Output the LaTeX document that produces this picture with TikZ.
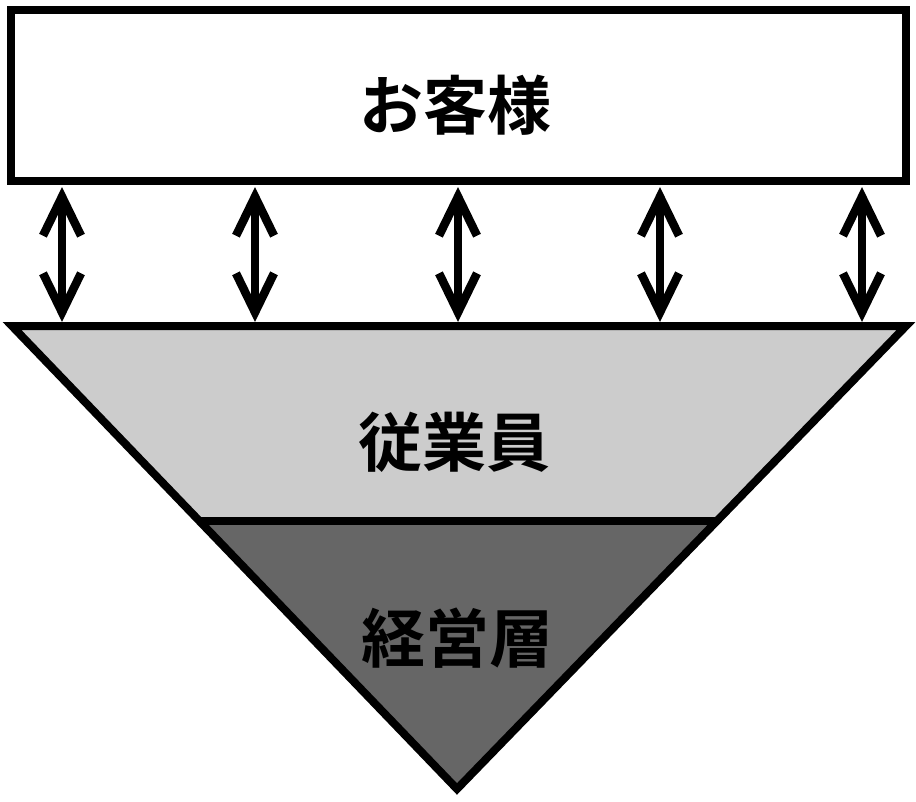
\documentclass[tikz,border=0pt]{standalone}
\usepackage{fontspec}
\newfontfamily\jp{Noto Sans CJK JP}[UprightFont=* Bold]
\usetikzlibrary{arrows.meta}
\definecolor{lightg}{HTML}{CCCCCC}
\definecolor{darkg}{HTML}{666666}
\tikzset{
  frame/.style={draw=black, line width=8pt, line join=miter},
  lbl/.style={font=\jp\fontsize{64}{64}\selectfont, inner sep=0pt},
  barb/.tip={Straight Barb[length=39pt,width=38pt,line width=8.5pt]},
  dblarrow/.style={line width=7.5pt, barb-barb}
}
\begin{document}
\begin{tikzpicture}[x=1pt,y=-1pt]
\useasboundingbox (0,0) rectangle (916,801);
% triangle parts
\coordinate (TL) at (12,326);
\coordinate (TR) at (906,326);
\coordinate (AP) at (457,789);
\coordinate (ML) at (199,521);
\coordinate (MR) at (717,521);
\fill[lightg] (TL) -- (TR) -- (MR) -- (ML) -- cycle;
\fill[darkg] (ML) -- (MR) -- (AP) -- cycle;
\draw[frame] (TL) -- (TR) -- (AP) -- cycle;
\draw[frame] (ML) -- (MR);
% customer box
\node[frame, fill=white, minimum width=895pt, minimum height=171pt, inner sep=0pt] (cust) at (458.5,95.5) {};
\node[lbl] (custlbl) at (455,105) {お客様};
\node[lbl] (emp) at (454,442) {従業員};
\node[lbl] (mgmt) at (457,638) {経営層};
% arrows
\foreach \i/\x in {1/62,2/255,3/458,4/660,5/862}{
  \coordinate (t\i) at (\x,187);
  \coordinate (b\i) at (\x,322);
  \draw[dblarrow] (t\i) -- (b\i);
}
\end{tikzpicture}
\end{document}
